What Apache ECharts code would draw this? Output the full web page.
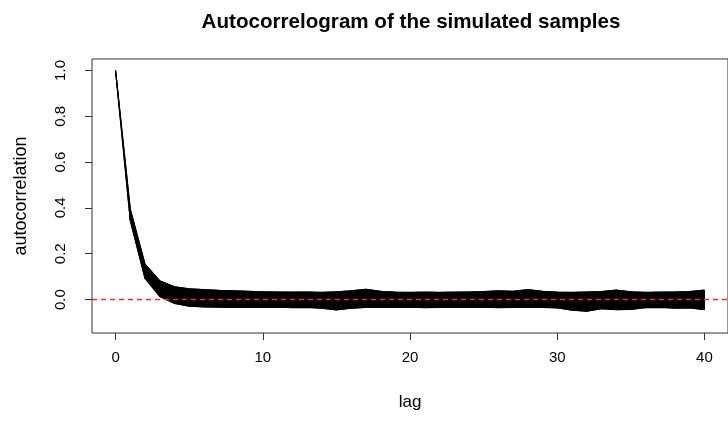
<!DOCTYPE html>
<html>
<head>
<meta charset="utf-8">
<script src="https://cdn.jsdelivr.net/npm/echarts@6/dist/echarts.min.js"></script>
<style>html,body{margin:0;padding:0;background:#fff}#c{width:728px;height:422px}</style>
</head>
<body>
<div id="c"></div>
<script>
const titleText = "Autocorrelogram of the simulated samples";
const xName = "lag";
const yName = "autocorrelation";
const lags = [0,1,2,3,4,5,6,7,8,9,10,11,12,13,14,15,16,17,18,19,20,21,22,23,24,25,26,27,28,29,30,31,32,33,34,35,36,37,38,39,40];
// upper envelope of the band of autocorrelation curves
const upperACF = [1.0,0.395,0.155,0.082,0.056,0.047,0.043,0.040,0.038,0.036,0.034,0.033,0.032,0.033,0.031,0.034,0.038,0.045,0.036,0.032,0.031,0.032,0.031,0.032,0.033,0.035,0.038,0.036,0.043,0.036,0.032,0.031,0.033,0.035,0.041,0.034,0.031,0.032,0.033,0.035,0.041];
// lower envelope of the band of autocorrelation curves
const lowerACF = [1.0,0.345,0.092,0.014,-0.017,-0.029,-0.032,-0.033,-0.034,-0.033,-0.034,-0.033,-0.035,-0.034,-0.038,-0.045,-0.038,-0.034,-0.033,-0.034,-0.033,-0.035,-0.034,-0.033,-0.034,-0.033,-0.035,-0.034,-0.033,-0.034,-0.036,-0.046,-0.051,-0.040,-0.044,-0.043,-0.035,-0.034,-0.037,-0.036,-0.044];
const xTicks = [0,10,20,30,40];
const yTicks = [0,0.2,0.4,0.6,0.8,1.0];
const xRange = [-1.6, 41.6];
const yRange = [-0.146, 1.05];
const refLine = 0;

const FONT = "'Liberation Sans', Arial, sans-serif";
// band segments between consecutive lags: [lag, up, low, nextLag, nextUp, nextLow]
const bandData = lags.slice(0,-1).map((l,i)=>[l,upperACF[i],lowerACF[i],lags[i+1],upperACF[i+1],lowerACF[i+1]]);

const chart = echarts.init(document.getElementById('c'), null, {renderer:'canvas'});
chart.setOption({
  animation:false,
  backgroundColor:'#fff',
  title:{text:titleText,left:406,textAlign:'center',top:7,
    textStyle:{fontFamily:FONT,fontSize:20.6,fontWeight:'bold',color:'#000'}},
  grid:{left:92,top:59,width:643,height:274,show:true,borderColor:'#333',borderWidth:1,backgroundColor:'transparent'},
  xAxis:{type:'value',min:xRange[0],max:xRange[1],
    axisLine:{show:false,onZero:false},splitLine:{show:false},
    axisTick:{show:true,customValues:xTicks,length:7,lineStyle:{color:'#333'}},
    axisLabel:{customValues:xTicks,margin:17,fontSize:15,fontFamily:FONT,color:'#000'},
    name:xName,nameLocation:'middle',nameGap:61,
    nameTextStyle:{fontSize:17,fontFamily:FONT,color:'#000'}},
  yAxis:{type:'value',min:yRange[0],max:yRange[1],
    axisLine:{show:false,onZero:false},splitLine:{show:false},
    axisTick:{show:true,customValues:yTicks,length:7,lineStyle:{color:'#333'}},
    axisLabel:{customValues:yTicks,rotate:90,margin:24,fontSize:15,fontFamily:FONT,color:'#000',
      formatter:v=>Number(v).toFixed(1)},
    name:yName,nameLocation:'middle',nameGap:62,nameRotate:90,
    nameTextStyle:{fontSize:18,fontFamily:FONT,color:'#000'}},
  series:[
    {type:'custom',name:'band',silent:true,clip:true,
      data:bandData,
      renderItem:function(params,api){
        const a=api.coord([api.value(0),api.value(1)]);
        const b=api.coord([api.value(3),api.value(4)]);
        const c=api.coord([api.value(3),api.value(5)]);
        const d=api.coord([api.value(0),api.value(2)]);
        return {type:'polygon',shape:{points:[a,b,c,d]},
          style:{fill:'#000',stroke:'#000',lineWidth:1}};
      },z:2},
    {type:'line',name:'upper',symbol:'none',silent:true,z:3,
      data:lags.map((l,i)=>[l,upperACF[i]]),
      lineStyle:{color:'#000',width:1.2}},
    {type:'line',name:'lower',symbol:'none',silent:true,z:3,
      data:lags.map((l,i)=>[l,lowerACF[i]]),
      lineStyle:{color:'#000',width:1.2}},
    {type:'line',name:'ref',symbol:'none',silent:true,zlevel:1,z:10,clip:true,
      data:xRange.map(x=>[x,refLine]),
      itemStyle:{color:'#d83a3a'},
      lineStyle:{color:'#d83a3a',type:[5,4],width:1.5}}
  ]
});
</script>
</body>
</html>
